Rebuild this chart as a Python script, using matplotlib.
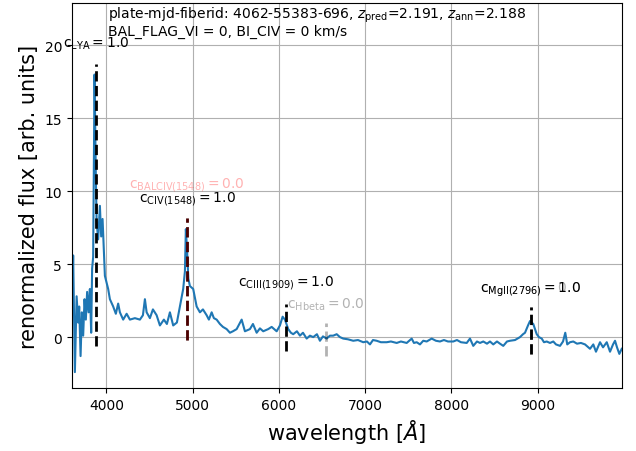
"""
Quasar spectrum with emission-line confidence annotations.
"""

import matplotlib
matplotlib.use("Agg")
import matplotlib.pyplot as plt

# spectrum
wavelength = [
    3606, 3615, 3635, 3655, 3673, 3685, 3701, 3716, 3731, 3747, 3762, 3777, 3794, 3809,
    3824, 3835, 3847, 3863, 3878, 3887, 3905, 3925, 3940, 3956, 3983, 4021, 4041, 4079,
    4110, 4137, 4157, 4195, 4235, 4273, 4331, 4389, 4424, 4447, 4467, 4505, 4540, 4583,
    4621, 4667, 4702, 4737, 4775, 4818, 4853, 4891, 4911, 4922, 4937, 4951, 4969, 5007,
    5047, 5085, 5120, 5163, 5189, 5221, 5247, 5279, 5317, 5352, 5395, 5433, 5468, 5511,
    5569, 5607, 5665, 5700, 5743, 5781, 5819, 5877, 5917, 5975, 6013, 6044, 6071, 6109,
    6140, 6167, 6210, 6245, 6280, 6323, 6361, 6399, 6442, 6477, 6512, 6555, 6593, 6631,
    6671, 6709, 6747, 6802, 6863, 6918, 6979, 7022, 7057, 7092, 7135, 7184, 7251, 7300,
    7367, 7416, 7483, 7541, 7567, 7599, 7637, 7675, 7715, 7773, 7822, 7869, 7915, 7962,
    8023, 8066, 8112, 8179, 8217, 8255, 8298, 8333, 8371, 8414, 8449, 8487, 8530, 8565,
    8603, 8646, 8681, 8739, 8797, 8832, 8855, 8890, 8913, 8951, 8991, 9017, 9049, 9075,
    9107, 9145, 9183, 9214, 9261, 9296, 9322, 9345, 9377, 9415, 9458, 9504, 9551, 9609,
    9647, 9678, 9725, 9760, 9803, 9841, 9876, 9899, 9922, 9949, 9977,
]
flux = [
    3.0, 5.6, -2.4, 2.8, 1.0, 2.1, -1.3, 1.7, 0.1, 2.6, 1.2, 3.1, 1.7, 3.3,
    0.3, 4.7, 5.5, 18.0, 11.0, 7.9, 6.7, 9.0, 6.9, 8.1, 4.2, 3.3, 2.6, 2.1,
    1.6, 2.3, 1.7, 1.2, 1.6, 1.2, 1.3, 1.2, 1.5, 2.6, 1.7, 1.3, 1.9, 1.5,
    0.8, 1.2, 0.9, 1.7, 0.8, 1.0, 2.1, 3.3, 4.5, 7.4, 5.8, 4.0, 3.5, 3.3,
    2.1, 1.7, 1.9, 1.5, 1.2, 1.7, 1.3, 1.2, 0.9, 0.7, 0.55, 0.3, 0.4, 0.55,
    1.2, 0.4, 0.55, 0.9, 0.3, 0.6, 0.4, 0.55, 0.7, 0.4, 0.8, 1.4, 1.2, 0.55,
    0.3, 0.2, 0.4, 0.1, 0.3, -0.1, 0.1, 0.0, 0.2, -0.25, 0.05, -0.1, 0.1, 0.1,
    0.2, 0.0, -0.1, -0.15, -0.25, -0.2, -0.35, -0.3, -0.5, -0.2, -0.25, -0.35, -0.35, -0.3,
    -0.4, -0.3, -0.4, -0.1, -0.4, -0.35, -0.5, -0.25, -0.3, -0.1, -0.25, -0.3, -0.2, -0.3,
    -0.3, -0.2, -0.35, -0.4, -0.1, -0.6, -0.3, -0.4, -0.3, -0.45, -0.3, -0.5, -0.3, -0.45,
    -0.6, -0.3, -0.25, -0.2, 0.0, 0.2, 0.3, 0.8, 1.1, 0.9, 0.2, 0.0, -0.1, -0.35,
    -0.3, -0.4, -0.3, -0.5, -0.6, -0.3, 0.3, -0.5, -0.35, -0.3, -0.45, -0.4, -0.5, -0.8,
    -0.5, -1.0, -0.35, -0.7, -0.35, -1.0, -0.5, -0.25, -0.7, -1.15, -0.8,
]

# line markers: name, observed wavelength, confidence, dash extent, label height
line_names = ["LYA", "CIV(1548)", "BALCIV(1548)", "CIII(1909)", "Hbeta", "MgII(2796)", "MgII(2796)"]
line_wave = [3876, 4938, 4938, 6085, 6543, 8922, 8922]
line_conf = [1.0, 1.0, 0.0, 1.0, 0.0, 0.0, 1.0]
line_ymin = [-0.6, -0.2, -0.2, -0.95, -1.3, -1.15, -1.15]
line_ymax = [18.7, 8.2, 8.2, 2.3, 1.0, 2.05, 2.05]
label_y = [20.2, 9.55, 10.5, 3.8, 2.26, 3.3, 3.3]
line_colors = ["black", "black", "red", "black", "black", "black", "black"]

title_text = ("plate-mjd-fiberid: 4062-55383-696, $z_{\\rm pred}$=2.191, $z_{\\rm ann}$=2.188\n"
              "BAL_FLAG_VI = 0, BI_CIV = 0 km/s")

fig, ax = plt.subplots(figsize=(6.36, 4.52), dpi=100)
fig.subplots_adjust(left=0.113, right=0.978, top=0.991, bottom=0.139)

ax.plot(wavelength, flux, color="tab:blue", linewidth=1.5)

for name, wl, c, y0, y1, ty, col in zip(line_names, line_wave, line_conf, line_ymin,
                                        line_ymax, label_y, line_colors):
    alpha = 1.0 if c > 0.5 else 0.3
    ax.vlines(wl, y0, y1, colors=col, linestyles="--", linewidth=2, alpha=alpha, zorder=3)
    ax.text(wl, ty, r"$\mathrm{c}_{\mathrm{%s}} = %.1f$" % (name, c), color=col,
            alpha=alpha, ha="center", va="center", fontsize=10)

ax.text(0.065, 0.997, title_text, transform=ax.transAxes, ha="left", va="top",
        fontsize=10, linespacing=1.0)

ax.set_xlim(3600, 9980)
ax.set_ylim(-3.5, 22.9)
ax.set_xticks([4000, 5000, 6000, 7000, 8000, 9000])
ax.set_yticks([0, 5, 10, 15, 20])
ax.grid(True)
ax.set_xlabel("wavelength [$Å$]", fontsize=15)
ax.set_ylabel("renormalized flux [arb. units]", fontsize=15)

fig.savefig("out.png", dpi=100)
